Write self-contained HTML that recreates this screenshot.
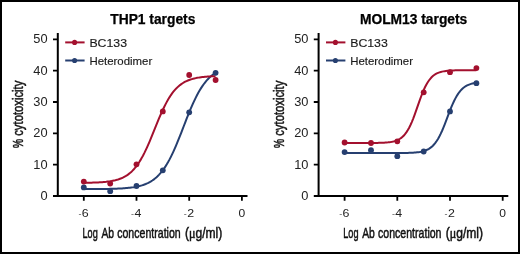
<!DOCTYPE html>
<html><head><meta charset="utf-8"><style>
html,body{margin:0;padding:0;background:#fff}
.wrap{position:relative;width:520px;height:254px;box-sizing:border-box;border:2px solid #000;overflow:hidden;background:#fff}
svg{position:absolute;left:-2px;top:-2px}
text{font-family:"Liberation Sans",Arial,sans-serif;fill:#111}
.ttl{font-weight:bold;font-size:13.8px;fill:#000;stroke:#000;stroke-width:0.25px}
.yl{font-size:12px;fill:#222}
.xl{font-size:11.6px;fill:#222}
.mn{fill:#777}
.lg{font-size:11px;fill:#1a1a1a;stroke:#1a1a1a;stroke-width:0.15px}
.yt{font-size:13.8px;fill:#111;stroke:#111;stroke-width:0.5px}
.xt{font-size:14.5px;fill:#111;stroke:#111;stroke-width:0.5px}
.mu{font-family:"Liberation Serif",serif}
.ax,.tk{stroke:#000;stroke-width:2;fill:none}
.tk{stroke-width:1.8}
</style></head><body><div class="wrap">
<svg width="520" height="254" viewBox="0 0 520 254">
<text class="ttl" x="152.8" y="24.0" text-anchor="middle">THP1 targets</text>
<path class="ax" d="M57.8 33V197M53.0 196H247.5"/>
<path class="tk" d="M53.0 164.7H57.8M53.0 133.3H57.8M53.0 102.0H57.8M53.0 70.6H57.8M53.0 39.3H57.8M83.8 196V200.8M136.5 196V200.8M189.2 196V200.8M241.9 196V200.8"/>
<text class="yl" transform="translate(47.6 200.0) scale(1.07,1)" text-anchor="end">0</text>
<text class="yl" transform="translate(47.6 168.7) scale(1.07,1)" text-anchor="end">10</text>
<text class="yl" transform="translate(47.6 137.3) scale(1.07,1)" text-anchor="end">20</text>
<text class="yl" transform="translate(47.6 106.0) scale(1.07,1)" text-anchor="end">30</text>
<text class="yl" transform="translate(47.6 74.6) scale(1.07,1)" text-anchor="end">40</text>
<text class="yl" transform="translate(47.6 43.3) scale(1.07,1)" text-anchor="end">50</text>
<text class="xl" y="216.6"><tspan class="mn" x="78.40" textLength="3.0" lengthAdjust="spacingAndGlyphs">-</tspan><tspan x="81.80" textLength="6.9" lengthAdjust="spacingAndGlyphs">6</tspan></text>
<text class="xl" y="216.6"><tspan class="mn" x="131.10" textLength="3.0" lengthAdjust="spacingAndGlyphs">-</tspan><tspan x="134.50" textLength="6.9" lengthAdjust="spacingAndGlyphs">4</tspan></text>
<text class="xl" y="216.6"><tspan class="mn" x="183.80" textLength="3.0" lengthAdjust="spacingAndGlyphs">-</tspan><tspan x="187.20" textLength="6.9" lengthAdjust="spacingAndGlyphs">2</tspan></text>
<text class="xl" transform="translate(241.9 216.6) scale(1.04,1)" text-anchor="middle">0</text>
<text class="yt" transform="translate(23.40 0) rotate(-90)"><tspan x="-148.00" textLength="9.00" lengthAdjust="spacingAndGlyphs">%</tspan> <tspan x="-135.80" textLength="55.20" lengthAdjust="spacingAndGlyphs">cytotoxicity</tspan></text>
<text class="xt" y="238.4"><tspan x="82.50" textLength="15.20" lengthAdjust="spacingAndGlyphs">Log</tspan> <tspan x="101.40" textLength="12.60" lengthAdjust="spacingAndGlyphs">Ab</tspan> <tspan x="117.20" textLength="63.50" lengthAdjust="spacingAndGlyphs">concentration</tspan> <tspan x="184.90" textLength="37.40" lengthAdjust="spacingAndGlyphs">(<tspan class="mu">μ</tspan>g/ml)</tspan></text>
<path d="M65.2 42.4H84.6" stroke="#a3102e" stroke-width="2"/>
<circle cx="74.6" cy="42.4" r="2.55" fill="#a3102e"/>
<text class="lg" y="46.6"><tspan x="89.40" textLength="37.60" lengthAdjust="spacingAndGlyphs">BC133</tspan></text>
<path d="M65.2 60.5H84.6" stroke="#263f70" stroke-width="2"/>
<circle cx="74.6" cy="60.5" r="2.55" fill="#263f70"/>
<text class="lg" y="64.7"><tspan x="89.40" textLength="62.80" lengthAdjust="spacingAndGlyphs">Heterodimer</tspan></text>
<polyline points="83.80,189.12 85.12,189.11 86.43,189.11 87.75,189.10 89.07,189.10 90.39,189.09 91.70,189.09 93.02,189.08 94.34,189.07 95.66,189.06 96.97,189.05 98.29,189.04 99.61,189.03 100.93,189.02 102.25,189.00 103.56,188.99 104.88,188.97 106.20,188.95 107.52,188.92 108.83,188.90 110.15,188.87 111.47,188.84 112.78,188.80 114.10,188.76 115.42,188.72 116.74,188.67 118.05,188.61 119.37,188.55 120.69,188.48 122.01,188.41 123.33,188.32 124.64,188.22 125.96,188.12 127.28,188.00 128.59,187.87 129.91,187.72 131.23,187.56 132.55,187.38 133.87,187.18 135.18,186.95 136.50,186.70 137.82,186.43 139.13,186.12 140.45,185.78 141.77,185.40 143.09,184.98 144.41,184.51 145.72,184.00 147.04,183.43 148.36,182.80 149.68,182.11 150.99,181.34 152.31,180.50 153.63,179.57 154.94,178.56 156.26,177.45 157.58,176.23 158.90,174.90 160.22,173.46 161.53,171.89 162.85,170.20 164.17,168.37 165.49,166.40 166.80,164.29 168.12,162.03 169.44,159.64 170.75,157.10 172.07,154.42 173.39,151.61 174.71,148.67 176.03,145.62 177.34,142.47 178.66,139.23 179.98,135.92 181.30,132.55 182.61,129.16 183.93,125.75 185.25,122.35 186.56,118.97 187.88,115.64 189.20,112.38 190.52,109.20 191.84,106.12 193.15,103.15 194.47,100.31 195.79,97.59 197.10,95.01 198.42,92.57 199.74,90.28 201.06,88.13 202.38,86.12 203.69,84.25 205.01,82.52 206.33,80.92 207.65,79.44 208.96,78.08 210.28,76.83 211.60,75.69 212.92,74.65 214.23,73.70 215.55,72.84" fill="none" stroke="#263f70" stroke-width="2"/>
<polyline points="83.80,182.81 85.12,182.79 86.43,182.77 87.75,182.75 89.07,182.72 90.39,182.69 91.70,182.65 93.02,182.61 94.34,182.56 95.66,182.51 96.97,182.45 98.29,182.39 99.61,182.31 100.93,182.23 102.25,182.13 103.56,182.03 104.88,181.90 106.20,181.77 107.52,181.61 108.83,181.44 110.15,181.25 111.47,181.03 112.78,180.78 114.10,180.50 115.42,180.19 116.74,179.84 118.05,179.45 119.37,179.01 120.69,178.52 122.01,177.97 123.33,177.35 124.64,176.66 125.96,175.90 127.28,175.05 128.59,174.11 129.91,173.06 131.23,171.91 132.55,170.64 133.87,169.24 135.18,167.71 136.50,166.04 137.82,164.23 139.13,162.26 140.45,160.15 141.77,157.87 143.09,155.45 144.41,152.88 145.72,150.17 147.04,147.32 148.36,144.36 149.68,141.30 150.99,138.15 152.31,134.94 153.63,131.68 154.94,128.41 156.26,125.15 157.58,121.92 158.90,118.74 160.22,115.64 161.53,112.63 162.85,109.74 164.17,106.97 165.49,104.35 166.80,101.86 168.12,99.53 169.44,97.35 170.75,95.33 172.07,93.45 173.39,91.73 174.71,90.14 176.03,88.69 177.34,87.37 178.66,86.17 179.98,85.09 181.30,84.10 182.61,83.22 183.93,82.42 185.25,81.70 186.56,81.06 187.88,80.48 189.20,79.97 190.52,79.51 191.84,79.10 193.15,78.73 194.47,78.40 195.79,78.11 197.10,77.85 198.42,77.62 199.74,77.42 201.06,77.24 202.38,77.08 203.69,76.93 205.01,76.81 206.33,76.69 207.65,76.59 208.96,76.51 210.28,76.43 211.60,76.36 212.92,76.30 214.23,76.24 215.55,76.19" fill="none" stroke="#a3102e" stroke-width="2"/>
<circle cx="83.8" cy="187.4" r="2.9" fill="#263f70"/>
<circle cx="110.2" cy="191.2" r="2.9" fill="#263f70"/>
<circle cx="136.5" cy="186.0" r="2.9" fill="#263f70"/>
<circle cx="162.8" cy="170.3" r="2.9" fill="#263f70"/>
<circle cx="189.2" cy="112.3" r="2.9" fill="#263f70"/>
<circle cx="215.6" cy="72.8" r="2.9" fill="#263f70"/>
<circle cx="83.8" cy="181.6" r="2.9" fill="#a3102e"/>
<circle cx="110.2" cy="183.6" r="2.9" fill="#a3102e"/>
<circle cx="136.5" cy="164.3" r="2.9" fill="#a3102e"/>
<circle cx="162.8" cy="111.4" r="2.9" fill="#a3102e"/>
<circle cx="189.2" cy="75.0" r="2.9" fill="#a3102e"/>
<circle cx="215.6" cy="80.0" r="2.9" fill="#a3102e"/>
<text class="ttl" x="413.6" y="24.0" text-anchor="middle">MOLM13 targets</text>
<path class="ax" d="M318.6 33V197M313.8 196H508.3"/>
<path class="tk" d="M313.8 164.7H318.6M313.8 133.3H318.6M313.8 102.0H318.6M313.8 70.6H318.6M313.8 39.3H318.6M344.6 196V200.8M397.3 196V200.8M450.0 196V200.8M502.7 196V200.8"/>
<text class="yl" transform="translate(308.4 200.0) scale(1.07,1)" text-anchor="end">0</text>
<text class="yl" transform="translate(308.4 168.7) scale(1.07,1)" text-anchor="end">10</text>
<text class="yl" transform="translate(308.4 137.3) scale(1.07,1)" text-anchor="end">20</text>
<text class="yl" transform="translate(308.4 106.0) scale(1.07,1)" text-anchor="end">30</text>
<text class="yl" transform="translate(308.4 74.6) scale(1.07,1)" text-anchor="end">40</text>
<text class="yl" transform="translate(308.4 43.3) scale(1.07,1)" text-anchor="end">50</text>
<text class="xl" y="216.6"><tspan class="mn" x="339.20" textLength="3.0" lengthAdjust="spacingAndGlyphs">-</tspan><tspan x="342.60" textLength="6.9" lengthAdjust="spacingAndGlyphs">6</tspan></text>
<text class="xl" y="216.6"><tspan class="mn" x="391.90" textLength="3.0" lengthAdjust="spacingAndGlyphs">-</tspan><tspan x="395.30" textLength="6.9" lengthAdjust="spacingAndGlyphs">4</tspan></text>
<text class="xl" y="216.6"><tspan class="mn" x="444.60" textLength="3.0" lengthAdjust="spacingAndGlyphs">-</tspan><tspan x="448.00" textLength="6.9" lengthAdjust="spacingAndGlyphs">2</tspan></text>
<text class="xl" transform="translate(502.7 216.6) scale(1.04,1)" text-anchor="middle">0</text>
<text class="yt" transform="translate(284.20 0) rotate(-90)"><tspan x="-148.00" textLength="9.00" lengthAdjust="spacingAndGlyphs">%</tspan> <tspan x="-135.80" textLength="55.20" lengthAdjust="spacingAndGlyphs">cytotoxicity</tspan></text>
<text class="xt" y="238.4"><tspan x="343.30" textLength="15.20" lengthAdjust="spacingAndGlyphs">Log</tspan> <tspan x="362.20" textLength="12.60" lengthAdjust="spacingAndGlyphs">Ab</tspan> <tspan x="378.00" textLength="63.50" lengthAdjust="spacingAndGlyphs">concentration</tspan> <tspan x="445.70" textLength="37.40" lengthAdjust="spacingAndGlyphs">(<tspan class="mu">μ</tspan>g/ml)</tspan></text>
<path d="M326.0 42.4H345.4" stroke="#a3102e" stroke-width="2"/>
<circle cx="335.4" cy="42.4" r="2.55" fill="#a3102e"/>
<text class="lg" y="46.6"><tspan x="350.20" textLength="37.60" lengthAdjust="spacingAndGlyphs">BC133</tspan></text>
<path d="M326.0 60.5H345.4" stroke="#263f70" stroke-width="2"/>
<circle cx="335.4" cy="60.5" r="2.55" fill="#263f70"/>
<text class="lg" y="64.7"><tspan x="350.20" textLength="62.80" lengthAdjust="spacingAndGlyphs">Heterodimer</tspan></text>
<polyline points="344.60,153.10 345.92,153.10 347.24,153.10 348.55,153.10 349.87,153.10 351.19,153.10 352.50,153.10 353.82,153.10 355.14,153.10 356.46,153.10 357.78,153.10 359.09,153.10 360.41,153.10 361.73,153.10 363.05,153.10 364.36,153.10 365.68,153.10 367.00,153.10 368.32,153.10 369.63,153.10 370.95,153.10 372.27,153.10 373.59,153.10 374.90,153.10 376.22,153.10 377.54,153.10 378.86,153.10 380.17,153.10 381.49,153.10 382.81,153.10 384.13,153.10 385.44,153.10 386.76,153.10 388.08,153.09 389.40,153.09 390.71,153.09 392.03,153.09 393.35,153.08 394.67,153.08 395.98,153.07 397.30,153.06 398.62,153.05 399.94,153.04 401.25,153.03 402.57,153.01 403.89,152.99 405.21,152.97 406.52,152.94 407.84,152.91 409.16,152.86 410.48,152.81 411.79,152.75 413.11,152.67 414.43,152.58 415.75,152.47 417.06,152.33 418.38,152.16 419.70,151.96 421.02,151.72 422.33,151.43 423.65,151.07 424.97,150.65 426.29,150.14 427.60,149.52 428.92,148.80 430.24,147.93 431.56,146.90 432.87,145.70 434.19,144.29 435.51,142.66 436.83,140.79 438.14,138.67 439.46,136.28 440.78,133.63 442.10,130.73 443.41,127.62 444.73,124.32 446.05,120.90 447.37,117.42 448.68,113.94 450.00,110.53 451.32,107.24 452.64,104.13 453.95,101.25 455.27,98.61 456.59,96.23 457.91,94.11 459.22,92.25 460.54,90.63 461.86,89.23 463.18,88.03 464.49,87.02 465.81,86.16 467.13,85.43 468.45,84.83 469.76,84.32 471.08,83.90 472.40,83.55 473.72,83.25 475.03,83.01 476.35,82.81" fill="none" stroke="#263f70" stroke-width="2"/>
<polyline points="344.60,143.03 345.92,143.03 347.24,143.03 348.55,143.03 349.87,143.03 351.19,143.03 352.50,143.03 353.82,143.03 355.14,143.03 356.46,143.03 357.78,143.03 359.09,143.03 360.41,143.03 361.73,143.02 363.05,143.02 364.36,143.02 365.68,143.02 367.00,143.01 368.32,143.00 369.63,143.00 370.95,142.99 372.27,142.98 373.59,142.97 374.90,142.95 376.22,142.93 377.54,142.90 378.86,142.87 380.17,142.84 381.49,142.79 382.81,142.73 384.13,142.67 385.44,142.58 386.76,142.48 388.08,142.35 389.40,142.19 390.71,142.00 392.03,141.76 393.35,141.47 394.67,141.12 395.98,140.69 397.30,140.17 398.62,139.54 399.94,138.77 401.25,137.86 402.57,136.76 403.89,135.46 405.21,133.92 406.52,132.13 407.84,130.05 409.16,127.68 410.48,125.00 411.79,122.03 413.11,118.79 414.43,115.31 415.75,111.65 417.06,107.89 418.38,104.10 419.70,100.37 421.02,96.76 422.33,93.35 423.65,90.19 424.97,87.31 426.29,84.73 427.60,82.46 428.92,80.47 430.24,78.77 431.56,77.31 432.87,76.07 434.19,75.04 435.51,74.17 436.83,73.45 438.14,72.86 439.46,72.37 440.78,71.97 442.10,71.64 443.41,71.36 444.73,71.14 446.05,70.96 447.37,70.81 448.68,70.69 450.00,70.60 451.32,70.52 452.64,70.45 453.95,70.40 455.27,70.36 456.59,70.32 457.91,70.29 459.22,70.27 460.54,70.25 461.86,70.24 463.18,70.22 464.49,70.21 465.81,70.21 467.13,70.20 468.45,70.19 469.76,70.19 471.08,70.19 472.40,70.18 473.72,70.18 475.03,70.18 476.35,70.18" fill="none" stroke="#a3102e" stroke-width="2"/>
<circle cx="344.6" cy="152.1" r="2.9" fill="#263f70"/>
<circle cx="371.0" cy="150.2" r="2.9" fill="#263f70"/>
<circle cx="397.3" cy="156.2" r="2.9" fill="#263f70"/>
<circle cx="423.7" cy="151.5" r="2.9" fill="#263f70"/>
<circle cx="450.0" cy="111.4" r="2.9" fill="#263f70"/>
<circle cx="476.4" cy="83.2" r="2.9" fill="#263f70"/>
<circle cx="344.6" cy="142.5" r="2.9" fill="#a3102e"/>
<circle cx="371.0" cy="143.0" r="2.9" fill="#a3102e"/>
<circle cx="397.3" cy="141.3" r="2.9" fill="#a3102e"/>
<circle cx="423.7" cy="92.3" r="2.9" fill="#a3102e"/>
<circle cx="450.0" cy="72.2" r="2.9" fill="#a3102e"/>
<circle cx="476.4" cy="68.1" r="2.9" fill="#a3102e"/>
</svg></div></body></html>
